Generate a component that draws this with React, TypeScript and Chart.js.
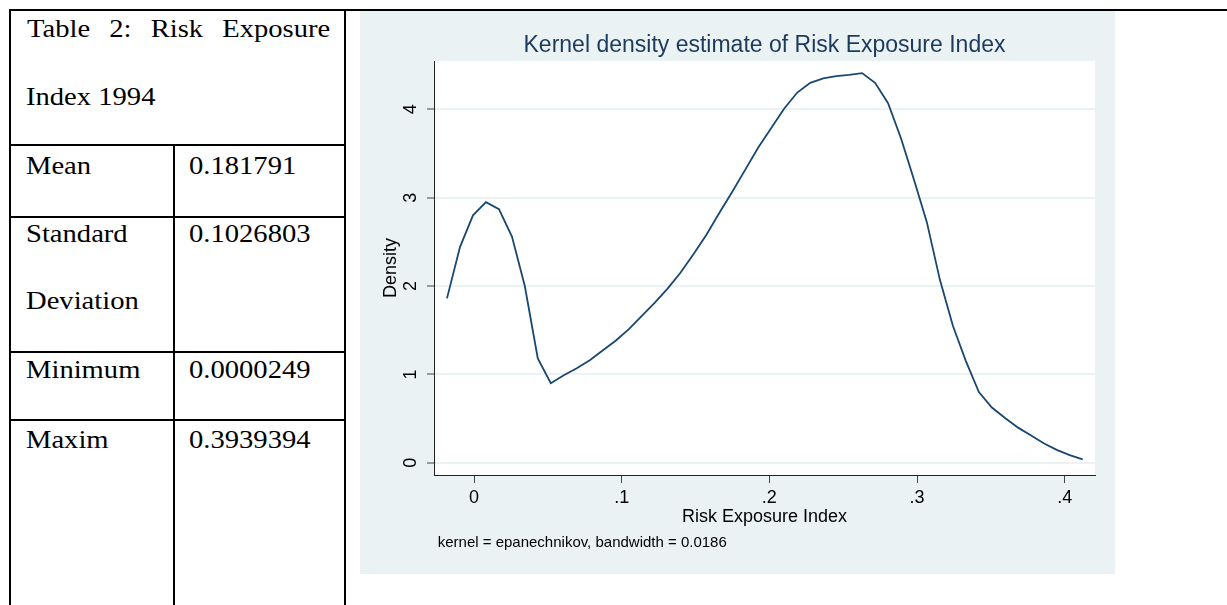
import React, { useEffect, useRef } from 'react';
import { Chart, registerables } from 'chart.js';

Chart.register(...registerables);

// ---- data ----
const densityX = [
  -0.0183, -0.0095, -0.0007, 0.0081, 0.0169, 0.0257, 0.0344, 0.0432, 0.052, 0.0608,
  0.0696, 0.0784, 0.0871, 0.0959, 0.1047, 0.1135, 0.1223, 0.1311, 0.1398, 0.1486,
  0.1574, 0.1662, 0.175, 0.1838, 0.1926, 0.2013, 0.2101, 0.2189, 0.2277, 0.2365,
  0.2453, 0.254, 0.2628, 0.2716, 0.2804, 0.2892, 0.298, 0.3067, 0.3155, 0.3243,
  0.3331, 0.3419, 0.3507, 0.3594, 0.3682, 0.377, 0.3858, 0.3946, 0.4034, 0.4122,
];
const densityY = [
  1.86, 2.44, 2.8, 2.95, 2.87, 2.56, 2.0, 1.18, 0.9, 0.99,
  1.07, 1.16, 1.27, 1.38, 1.51, 1.66, 1.81, 1.97, 2.15, 2.36,
  2.58, 2.83, 3.07, 3.32, 3.57, 3.79, 4.01, 4.19, 4.3, 4.35,
  4.375, 4.39, 4.41, 4.3, 4.07, 3.67, 3.2, 2.72, 2.07, 1.55,
  1.15, 0.8, 0.625, 0.51, 0.4, 0.31, 0.22, 0.145, 0.087, 0.038,
];
const xTickValues = [0, 0.1, 0.2, 0.3, 0.4];
const xTickLabels = ['0', '.1', '.2', '.3', '.4'];
const yTickValues = [0, 1, 2, 3, 4];
const yTickLabels = ['0', '1', '2', '3', '4'];

const chartTitle = 'Kernel density estimate of Risk Exposure Index';
const xAxisTitle = 'Risk Exposure Index';
const yAxisTitle = 'Density';
const noteText = 'kernel = epanechnikov, bandwidth = 0.0186';

const tableTitleLines = ['Table 2: Risk Exposure', 'Index 1994'];
const statLabelLines = [['Mean'], ['Standard', 'Deviation'], ['Minimum'], ['Maxim']];
const statValues = ['0.181791', '0.1026803', '0.0000249', '0.3939394'];

// ---- styling ----
const SANS = '"Liberation Sans", Arial, Helvetica, sans-serif';
const SERIF = '"Liberation Serif", "Times New Roman", Times, serif';
const PANEL_BG = '#eaf2f3';
const LINE_COLOR = '#1a476f';
const TITLE_COLOR = '#1c3a5c';
const AXIS_COLOR = '#222222';
const TICK_COLOR = '#444444';

const plotBgPlugin = {
  id: 'plotBg',
  beforeDraw(chart: any) {
    const { ctx, chartArea } = chart;
    ctx.save();
    ctx.fillStyle = '#ffffff';
    ctx.fillRect(chartArea.left, chartArea.top, chartArea.right - chartArea.left, chartArea.bottom - chartArea.top);
    ctx.restore();
  },
};

const textPlugin = {
  id: 'stataText',
  afterDraw(chart: any) {
    const { ctx, chartArea } = chart;
    ctx.save();
    ctx.fillStyle = TITLE_COLOR;
    ctx.font = `23px ${SANS}`;
    ctx.textAlign = 'center';
    ctx.textBaseline = 'alphabetic';
    ctx.fillText(chartTitle, (chartArea.left + chartArea.right) / 2, 41.3);
    ctx.fillStyle = '#000';
    ctx.font = `15px ${SANS}`;
    ctx.textAlign = 'left';
    ctx.fillText(noteText, chartArea.left + 3.7, 536.4);
    ctx.restore();
  },
};

function DensityChart() {
  const ref = useRef<HTMLCanvasElement | null>(null);
  useEffect(() => {
    if (!ref.current) return;
    const points = densityX.map((x, i) => ({ x, y: densityY[i] }));
    const chart = new Chart(ref.current, {
      type: 'line',
      data: {
        datasets: [
          {
            data: points,
            borderColor: LINE_COLOR,
            borderWidth: 1.8,
            pointRadius: 0,
            tension: 0,
            fill: false,
          },
        ],
      },
      options: {
        responsive: false,
        animation: false,
        devicePixelRatio: 1,
        layout: { padding: { top: 50, right: 20, bottom: 0, left: 0 } },
        plugins: {
          legend: { display: false },
          tooltip: { enabled: false },
          title: { display: false },
        },
        scales: {
          x: {
            type: 'linear',
            min: -0.02709,
            max: 0.42053,
            afterBuildTicks: (s: any) => {
              s.ticks = xTickValues.map((v) => ({ value: v }));
            },
            afterFit: (s: any) => {
              s.height = 99;
            },
            ticks: {
              callback: (_v: any, i: number) => xTickLabels[i],
              font: { family: SANS, size: 18 },
              color: '#000',
              padding: 4,
              minRotation: 0,
              maxRotation: 0,
              autoSkip: false,
            },
            grid: {
              drawOnChartArea: false,
              drawTicks: true,
              tickLength: 8,
              tickColor: TICK_COLOR,
              tickWidth: 1,
            },
            border: { display: true, color: AXIS_COLOR, width: 1 },
            title: {
              display: true,
              text: xAxisTitle,
              font: { family: SANS, size: 18 },
              color: '#000',
              padding: { top: 0, bottom: 46 },
            },
          },
          y: {
            type: 'linear',
            min: -0.139,
            max: 4.547,
            afterBuildTicks: (s: any) => {
              s.ticks = yTickValues.map((v) => ({ value: v }));
            },
            afterFit: (s: any) => {
              s.width = 74;
            },
            ticks: {
              callback: (_v: any, i: number) => yTickLabels[i],
              font: { family: SANS, size: 18 },
              color: '#000',
              padding: 11,
              minRotation: 90,
              maxRotation: 90,
              crossAlign: 'center',
              autoSkip: false,
            },
            grid: {
              color: PANEL_BG,
              lineWidth: 2,
              drawTicks: true,
              tickLength: 7,
              tickColor: TICK_COLOR,
              tickWidth: 1,
            },
            border: { display: true, color: AXIS_COLOR, width: 1 },
            title: {
              display: true,
              text: yAxisTitle,
              font: { family: SANS, size: 18 },
              color: '#000',
              padding: { top: 20, bottom: 0 },
            },
          },
        },
      } as any,
      plugins: [plotBgPlugin, textPlugin],
    });
    return () => chart.destroy();
  }, []);
  return <canvas ref={ref} width={755} height={563} style={{ display: 'block', width: 755, height: 563 }} />;
}

const line = (left: number, top: number, width: number, height: number, key: string) => (
  <div key={key} style={{ position: 'absolute', left, top, width, height, background: '#000' }} />
);

const cellText = (text: string, left: number, top: number, key: string, justifyWidth?: number) => (
  <div
    key={key}
    style={{
      position: 'absolute',
      left,
      top,
      fontFamily: SERIF,
      fontSize: 26,
      lineHeight: '26px',
      color: '#000',
      whiteSpace: justifyWidth ? 'normal' : 'nowrap',
      width: justifyWidth,
      textAlign: justifyWidth ? 'justify' : 'left',
      textAlignLast: justifyWidth ? 'justify' : 'auto',
      transform: 'scaleX(1.1)',
      transformOrigin: 'left top',
    } as any}
  >
    {text}
  </div>
);

export default function App() {
  const labelTops = [[153.2], [220.9, 288.2], [356.5], [426.5]];
  const els: any[] = [];
  els.push(cellText(tableTitleLines[0], 26.7, 15.5, 't0', 275.7));
  els.push(cellText(tableTitleLines[1], 26, 84.2, 't1'));
  statLabelLines.forEach((lines, r) => {
    lines.forEach((t, j) => els.push(cellText(t, 26, labelTops[r][j], `l${r}-${j}`)));
    els.push(cellText(statValues[r], 188.7, labelTops[r][0], `v${r}`));
  });
  return (
    <div style={{ position: 'absolute', left: 0, top: 0, width: 1227, height: 605, overflow: 'hidden', background: '#fff' }}>
      {line(9, 9, 1218, 2, 'top')}
      {line(9, 9, 2, 596, 'left')}
      {line(344, 9, 2, 596, 'mid')}
      {line(173, 145, 2, 460, 'col')}
      {line(9, 144, 337, 2, 'r1')}
      {line(9, 216, 337, 2, 'r2')}
      {line(9, 351, 337, 2, 'r3')}
      {line(9, 419, 337, 2, 'r4')}
      {els}
      <div style={{ position: 'absolute', left: 360, top: 11, width: 755, height: 563, background: PANEL_BG }}>
        <DensityChart />
      </div>
    </div>
  );
}
